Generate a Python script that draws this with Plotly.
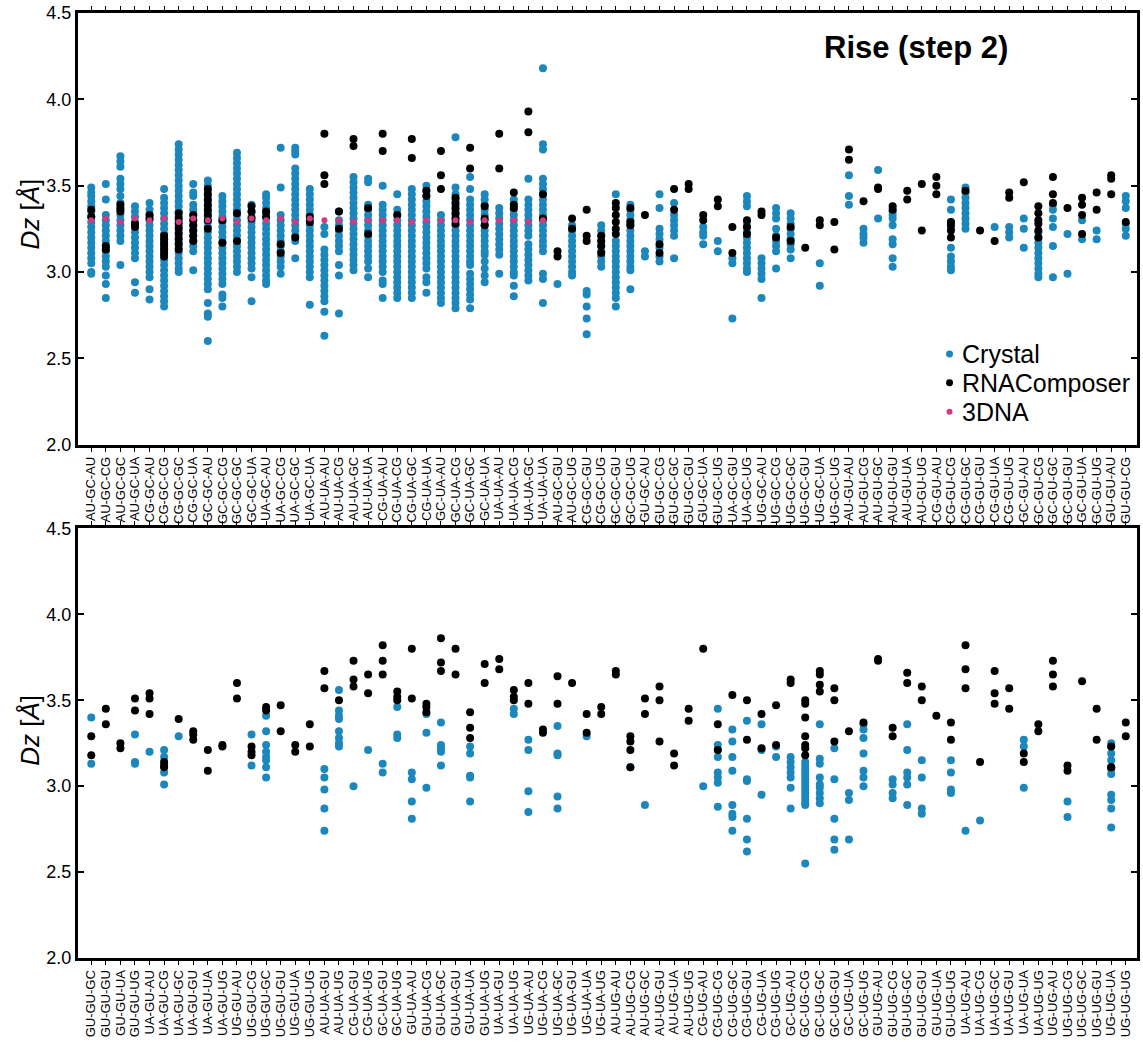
import plotly.graph_objects as go

top_categories = [
    "AU-GC-AU", "AU-GC-CG", "AU-GC-GC", "AU-GC-UA", "CG-GC-AU", "CG-GC-CG", "CG-GC-GC", "CG-GC-UA",
    "GC-GC-AU", "GC-GC-CG", "GC-GC-GC", "GC-GC-UA", "UA-GC-AU", "UA-GC-CG", "UA-GC-GC", "UA-GC-UA",
    "AU-UA-AU", "AU-UA-CG", "AU-UA-GC", "AU-UA-UA", "CG-UA-AU", "CG-UA-CG", "CG-UA-GC", "CG-UA-UA",
    "GC-UA-AU", "GC-UA-CG", "GC-UA-GC", "GC-UA-UA", "UA-UA-AU", "UA-UA-CG", "UA-UA-GC", "UA-UA-UA",
    "AU-GC-GU", "AU-GC-UG", "CG-GC-GU", "CG-GC-UG", "GC-GC-GU", "GC-GC-UG", "GU-GC-AU", "GU-GC-CG",
    "GU-GC-GC", "GU-GC-GU", "GU-GC-UA", "GU-GC-UG", "UA-GC-GU", "UA-GC-UG", "UG-GC-AU", "UG-GC-CG",
    "UG-GC-GC", "UG-GC-GU", "UG-GC-UA", "UG-GC-UG", "AU-GU-AU", "AU-GU-CG", "AU-GU-GC", "AU-GU-GU",
    "AU-GU-UA", "AU-GU-UG", "CG-GU-AU", "CG-GU-CG", "CG-GU-GC", "CG-GU-GU", "CG-GU-UA", "CG-GU-UG",
    "GC-GU-AU", "GC-GU-CG", "GC-GU-GC", "GC-GU-GU", "GC-GU-UA", "GC-GU-UG", "GU-GU-AU", "GU-GU-CG",
]

top_crystal = [
    [3.49, 3.46, 3.44, 3.41, 3.38, 3.35, 3.32, 3.29, 3.26, 3.23, 3.20, 3.17, 3.14, 3.11, 3.08, 3.05, 3.00, 2.99],
    [3.51, 3.42, 3.33, 3.30, 3.27, 3.24, 3.21, 3.18, 3.15, 3.12, 3.09, 3.06, 3.03, 2.98, 2.93, 2.85],
    [3.67, 3.64, 3.61, 3.54, 3.51, 3.48, 3.44, 3.40, 3.36, 3.33, 3.30, 3.27, 3.24, 3.21, 3.18, 3.04],
    [3.38, 3.35, 3.32, 3.29, 3.26, 3.23, 3.20, 3.17, 3.14, 3.11, 3.08, 2.94, 2.88],
    [3.40, 3.36, 3.33, 3.30, 3.27, 3.24, 3.21, 3.18, 3.15, 3.12, 3.09, 3.06, 3.03, 3.00, 2.97, 2.90, 2.84],
    [3.48, 3.43, 3.40, 3.37, 3.34, 3.31, 3.28, 3.25, 3.22, 3.19, 3.16, 3.13, 3.10, 3.07, 3.04, 3.01, 2.98, 2.95, 2.92, 2.89, 2.86, 2.83, 2.80],
    [3.74, 3.71, 3.68, 3.65, 3.62, 3.59, 3.56, 3.53, 3.50, 3.47, 3.44, 3.41, 3.38, 3.35, 3.32, 3.29, 3.26, 3.23, 3.20, 3.17, 3.14, 3.11, 3.08, 3.05, 3.02, 3.00],
    [3.51, 3.46, 3.44, 3.39, 3.36, 3.33, 3.30, 3.27, 3.24, 3.21, 3.18, 3.15, 3.12, 3.01],
    [3.53, 3.50, 3.47, 3.44, 3.41, 3.38, 3.35, 3.32, 3.29, 3.26, 3.23, 3.20, 3.17, 3.14, 3.11, 3.08, 3.05, 3.02, 2.99, 2.96, 2.93, 2.90, 2.82, 2.76, 2.74, 2.60],
    [3.44, 3.41, 3.38, 3.35, 3.32, 3.29, 3.26, 3.23, 3.20, 3.17, 3.14, 3.11, 3.08, 3.05, 3.02, 2.99, 2.96, 2.93, 2.87, 2.85, 2.80],
    [3.69, 3.66, 3.63, 3.60, 3.57, 3.54, 3.51, 3.48, 3.45, 3.42, 3.39, 3.36, 3.33, 3.30, 3.27, 3.24, 3.21, 3.18, 3.15, 3.12, 3.09, 3.06, 3.03, 3.00],
    [3.39, 3.35, 3.32, 3.29, 3.26, 3.23, 3.20, 3.17, 3.14, 3.11, 3.08, 3.05, 3.02, 2.97, 2.83],
    [3.45, 3.43, 3.40, 3.37, 3.34, 3.31, 3.28, 3.25, 3.22, 3.19, 3.16, 3.13, 3.10, 3.07, 3.04, 3.01, 2.98, 2.95, 2.93],
    [3.72, 3.49, 3.33, 3.30, 3.27, 3.24, 3.21, 3.18, 3.15, 3.12, 3.09, 3.06, 3.03, 2.99],
    [3.72, 3.70, 3.68, 3.60, 3.57, 3.54, 3.51, 3.48, 3.45, 3.42, 3.39, 3.36, 3.33, 3.30, 3.27, 3.24, 3.21, 3.18, 3.08],
    [3.48, 3.45, 3.42, 3.39, 3.36, 3.33, 3.30, 3.27, 3.24, 3.21, 3.18, 3.15, 3.12, 3.09, 3.06, 3.03, 3.00, 2.97, 2.81],
    [3.26, 3.22, 3.13, 3.10, 3.07, 3.04, 3.01, 2.98, 2.95, 2.92, 2.89, 2.86, 2.83, 2.77, 2.63],
    [3.35, 3.30, 3.27, 3.24, 3.21, 3.18, 3.15, 3.12, 3.04, 2.98, 2.76],
    [3.55, 3.52, 3.49, 3.46, 3.43, 3.40, 3.37, 3.34, 3.31, 3.28, 3.25, 3.22, 3.19, 3.16, 3.13, 3.10, 3.07, 3.04, 3.01],
    [3.54, 3.52, 3.39, 3.36, 3.33, 3.30, 3.27, 3.24, 3.21, 3.18, 3.15, 3.12, 3.09, 3.06, 3.02, 2.97],
    [3.50, 3.39, 3.36, 3.33, 3.30, 3.27, 3.24, 3.21, 3.18, 3.15, 3.12, 3.09, 3.06, 3.03, 3.00, 2.95, 2.93, 2.85],
    [3.45, 3.36, 3.33, 3.30, 3.27, 3.24, 3.21, 3.18, 3.15, 3.12, 3.09, 3.06, 3.03, 3.00, 2.97, 2.94, 2.91, 2.88, 2.85],
    [3.48, 3.45, 3.42, 3.39, 3.36, 3.33, 3.30, 3.27, 3.24, 3.21, 3.18, 3.15, 3.12, 3.09, 3.06, 3.03, 3.00, 2.97, 2.94, 2.91, 2.88, 2.85],
    [3.50, 3.47, 3.44, 3.41, 3.38, 3.35, 3.32, 3.29, 3.26, 3.23, 3.20, 3.17, 3.14, 3.11, 3.08, 3.05, 3.02, 2.97, 2.94, 2.88],
    [3.33, 3.30, 3.27, 3.24, 3.21, 3.18, 3.15, 3.12, 3.09, 3.06, 3.03, 3.00, 2.97, 2.94, 2.91, 2.88, 2.85, 2.82],
    [3.78, 3.49, 3.45, 3.42, 3.39, 3.36, 3.33, 3.30, 3.27, 3.24, 3.21, 3.18, 3.15, 3.12, 3.09, 3.06, 3.03, 3.00, 2.97, 2.94, 2.91, 2.88, 2.85, 2.82, 2.79],
    [3.55, 3.48, 3.42, 3.39, 3.36, 3.33, 3.30, 3.27, 3.24, 3.21, 3.18, 3.15, 3.12, 3.09, 3.06, 3.04, 2.99, 2.96, 2.93, 2.90, 2.87, 2.84, 2.79],
    [3.45, 3.42, 3.39, 3.36, 3.33, 3.30, 3.27, 3.24, 3.21, 3.18, 3.15, 3.12, 3.10, 3.06, 3.02, 2.98, 2.94],
    [3.37, 3.34, 3.31, 3.28, 3.25, 3.22, 3.19, 3.16, 3.13, 3.10, 2.99],
    [3.42, 3.39, 3.36, 3.33, 3.30, 3.27, 3.24, 3.21, 3.18, 3.15, 3.12, 3.09, 3.06, 3.03, 3.00, 2.98, 2.92, 2.86],
    [3.54, 3.42, 3.39, 3.36, 3.33, 3.30, 3.27, 3.24, 3.21, 3.16, 3.13, 3.10, 3.07, 3.04, 3.01, 2.98, 2.95],
    [4.18, 3.74, 3.71, 3.54, 3.51, 3.48, 3.45, 3.42, 3.39, 3.36, 3.33, 3.30, 3.27, 3.24, 3.21, 3.18, 3.15, 3.12, 2.99, 2.96, 2.82],
    [2.93],
    [3.27, 3.24, 3.21, 3.18, 3.15, 3.12, 3.09, 3.06, 3.03, 3.00, 2.98],
    [2.89, 2.87, 2.80, 2.73, 2.64],
    [3.27, 3.24, 3.21, 3.18, 3.15, 3.12, 3.09, 3.06, 3.03],
    [3.45, 3.18, 3.15, 3.12, 3.09, 3.06, 3.03, 3.00, 2.97, 2.94, 2.91, 2.88, 2.85, 2.80],
    [3.39, 3.36, 3.33, 3.30, 3.27, 3.24, 3.21, 3.18, 3.15, 3.12, 3.09, 3.06, 3.03, 3.01, 2.90],
    [3.12, 3.09],
    [3.45, 3.37, 3.25, 3.22, 3.19, 3.14, 3.09, 3.06],
    [3.40, 3.33, 3.30, 3.27, 3.24, 3.21, 3.08],
    [],
    [3.26, 3.23, 3.21, 3.16],
    [3.18, 3.12],
    [3.08, 3.05, 2.73],
    [3.44, 3.41, 3.38, 3.29, 3.26, 3.23, 3.20, 3.17, 3.14, 3.11, 3.08, 3.05, 3.02, 3.00],
    [3.08, 3.05, 3.02, 2.99, 2.96, 2.85],
    [3.37, 3.34, 3.31, 3.25, 3.21, 3.18, 3.15, 3.12, 3.02],
    [3.34, 3.31, 3.28, 3.25, 3.22, 3.19, 3.16, 3.13, 3.08],
    [],
    [3.05, 2.92],
    [],
    [3.56, 3.44, 3.39],
    [3.25, 3.22, 3.20, 3.17],
    [3.59, 3.31],
    [3.35, 3.33, 3.31, 3.27, 3.19, 3.16, 3.08, 3.03],
    [],
    [],
    [],
    [3.42, 3.36, 3.29, 3.25, 3.14, 3.09, 3.06, 3.03, 3.01],
    [3.49, 3.46, 3.43, 3.40, 3.37, 3.34, 3.31, 3.28, 3.25],
    [],
    [3.26],
    [3.26, 3.23, 3.20],
    [3.31, 3.25, 3.14],
    [3.23, 3.20, 3.17, 3.14, 3.11, 3.08, 3.05, 3.02, 2.99, 2.97],
    [3.39, 3.36, 3.31, 3.26, 3.15, 2.97],
    [3.22, 2.99],
    [3.30, 3.19],
    [3.24, 3.19],
    [],
    [3.44, 3.41, 3.37, 3.28, 3.25, 3.21],
]

top_rnacomposer = [
    [3.36, 3.32], [3.15, 3.13], [3.39, 3.37, 3.35], [3.28, 3.26], [3.33, 3.31],
    [3.21, 3.19, 3.17, 3.15, 3.13, 3.11, 3.09],
    [3.34, 3.31, 3.28, 3.25, 3.22, 3.19, 3.16, 3.13],
    [3.33, 3.30, 3.27, 3.24, 3.21, 3.18],
    [3.48, 3.45, 3.42, 3.39, 3.36, 3.33, 3.30, 3.25],
    [3.30, 3.17], [3.34, 3.18], [3.38, 3.35, 3.31], [3.35, 3.32], [3.16, 3.11], [3.20], [3.32, 3.29],
    [3.80, 3.56, 3.51], [3.35, 3.25], [3.77, 3.73], [3.37, 3.22], [3.80, 3.70], [3.33], [3.77, 3.66], [3.47, 3.44],
    [3.70, 3.56, 3.48], [3.43, 3.40, 3.37, 3.34, 3.31, 3.28], [3.72, 3.60], [3.38, 3.31, 3.27],
    [3.80, 3.60], [3.46, 3.39, 3.37], [3.93, 3.81], [3.45, 3.31],
    [3.12, 3.09], [3.31, 3.25], [3.36, 3.21, 3.18], [3.21, 3.18, 3.15, 3.11],
    [3.40, 3.37, 3.33, 3.29, 3.25, 3.22], [3.37, 3.29, 3.27], [3.33], [3.16, 3.11],
    [3.48, 3.36], [3.51, 3.48], [3.33, 3.30], [3.42, 3.38], [3.26, 3.11], [3.30, 3.26, 3.22],
    [3.35, 3.33], [3.20], [3.26, 3.18], [3.14], [3.30, 3.27], [3.29, 3.13],
    [3.71, 3.65], [3.41], [3.49, 3.48], [3.38, 3.36], [3.47, 3.42], [3.51, 3.24],
    [3.55, 3.50, 3.45], [3.29, 3.27, 3.24, 3.20], [3.47], [3.24], [3.18], [3.46, 3.43],
    [3.52], [3.38, 3.34, 3.30, 3.28, 3.24, 3.20], [3.55, 3.45, 3.40], [3.37],
    [3.43, 3.39, 3.33, 3.22], [3.46, 3.36], [3.56, 3.54, 3.45], [3.29],
]

top_3dna = [3.30, 3.31, 3.29, 3.31, 3.30, 3.31, 3.29, 3.31, 3.30, 3.31, 3.29, 3.31, 3.30, 3.31, 3.29, 3.31,
            3.30, 3.30, 3.29, 3.30, 3.30, 3.30, 3.29, 3.30, 3.30, 3.30, 3.29, 3.30, 3.30, 3.30, 3.29, 3.30]

bottom_categories = [
    "GU-GU-GC", "GU-GU-GU", "GU-GU-UA", "GU-GU-UG", "UA-GU-AU", "UA-GU-CG", "UA-GU-GC", "UA-GU-GU",
    "UA-GU-UA", "UA-GU-UG", "UG-GU-AU", "UG-GU-CG", "UG-GU-GC", "UG-GU-GU", "UG-GU-UA", "UG-GU-UG",
    "AU-UA-GU", "AU-UA-UG", "CG-UA-GU", "CG-UA-UG", "GC-UA-GU", "GC-UA-UG", "GU-UA-AU", "GU-UA-CG",
    "GU-UA-GC", "GU-UA-GU", "GU-UA-UA", "GU-UA-UG", "UA-UA-GU", "UA-UA-UG", "UG-UA-AU", "UG-UA-CG",
    "UG-UA-GC", "UG-UA-GU", "UG-UA-UA", "UG-UA-UG", "AU-UG-AU", "AU-UG-CG", "AU-UG-GC", "AU-UG-GU",
    "AU-UG-UA", "AU-UG-UG", "CG-UG-AU", "CG-UG-CG", "CG-UG-GC", "CG-UG-GU", "CG-UG-UA", "CG-UG-UG",
    "GC-UG-AU", "GC-UG-CG", "GC-UG-GC", "GC-UG-GU", "GC-UG-UA", "GC-UG-UG", "GU-UG-AU", "GU-UG-CG",
    "GU-UG-GC", "GU-UG-GU", "GU-UG-UA", "GU-UG-UG", "UA-UG-AU", "UA-UG-CG", "UA-UG-GC", "UA-UG-GU",
    "UA-UG-UA", "UA-UG-UG", "UG-UG-AU", "UG-UG-CG", "UG-UG-GC", "UG-UG-GU", "UG-UG-UA", "UG-UG-UG",
]

bottom_crystal = [
    [3.40, 3.13], [], [], [3.30, 3.14, 3.13], [3.20], [3.21, 3.17, 3.08, 3.01], [3.29], [],
    [], [], [], [3.30, 3.12], [3.41, 3.32, 3.24, 3.20, 3.17, 3.15, 3.11, 3.05], [], [], [],
    [3.10, 3.05, 2.98, 2.87, 2.74], [3.56, 3.44, 3.41, 3.39, 3.32, 3.28, 3.25, 3.23], [3.00], [3.21],
    [3.13, 3.08], [3.46, 3.30, 3.28], [3.08, 3.04, 2.91, 2.81], [3.42, 3.31, 2.99],
    [3.37, 3.24, 3.22, 3.20, 3.12], [], [3.23, 3.19, 3.06, 3.05, 2.91], [], [], [3.45, 3.42],
    [3.27, 3.21, 2.97, 2.85], [],
    [3.35, 3.19, 3.18, 2.94, 2.87], [], [3.29], [], [], [3.11], [2.89], [],
    [], [], [3.00], [3.45, 3.24, 3.21, 3.17, 3.08, 3.05, 3.02, 2.88],
    [3.33, 3.26, 3.17, 3.09, 2.89, 2.84, 2.82, 2.74], [3.38, 3.04, 3.03, 2.81, 2.69, 2.62], [3.36, 3.21, 2.95], [3.23, 3.17],
    [3.17, 3.14, 3.11, 3.08, 3.05, 2.99, 2.87],
    [3.14, 3.12, 3.10, 3.08, 3.06, 3.04, 3.02, 3.00, 2.98, 2.96, 2.94, 2.92, 2.90, 2.89, 2.55],
    [3.36, 3.16, 3.13, 3.05, 3.01, 2.99, 2.96, 2.93, 2.90],
    [3.22, 3.04, 2.81, 2.69, 2.63], [2.96, 2.92, 2.69], [3.36, 3.33, 3.28, 3.19, 3.09, 3.05, 3.00], [], [3.04, 3.01, 2.96, 2.93],
    [3.36, 3.21, 3.08, 3.05, 3.01, 2.89], [3.15, 3.05, 2.87, 2.84], [], [3.15, 3.08, 2.98, 2.96],
    [2.74], [2.80], [], [], [3.27, 3.23, 2.99], [], [], [2.91, 2.82], [], [],
    [3.25, 3.23, 3.19, 3.15, 3.10, 3.07, 2.95, 2.92, 2.87, 2.76], [],
]

bottom_rnacomposer = [
    [3.29, 3.18], [3.45, 3.36], [3.25, 3.22], [3.51, 3.44], [3.54, 3.51, 3.42], [3.14, 3.12, 3.11], [3.39], [3.32, 3.30, 3.27],
    [3.21, 3.09], [3.24, 3.23], [3.60, 3.51], [3.23, 3.20, 3.18], [3.46, 3.44], [3.47, 3.32], [3.24, 3.20], [3.36, 3.23],
    [3.67, 3.57], [3.50], [3.73, 3.62, 3.58], [3.65, 3.54], [3.82, 3.73, 3.65], [3.55, 3.52, 3.50], [3.80, 3.51], [3.48, 3.46, 3.43],
    [3.86, 3.72, 3.67], [3.80, 3.65], [3.43, 3.34, 3.28], [3.71, 3.60], [3.74, 3.68], [3.56, 3.52, 3.50], [3.60, 3.48], [3.33, 3.31],
    [3.64, 3.48], [3.60], [3.42, 3.31], [3.46, 3.42], [3.67, 3.65], [3.29, 3.26, 3.21, 3.11], [3.51, 3.42], [3.58, 3.50, 3.26],
    [3.19, 3.12], [3.45, 3.38], [3.80], [3.36, 3.21], [3.53], [3.50, 3.27], [3.42, 3.22], [3.47, 3.24],
    [3.62, 3.60], [3.50, 3.48, 3.40, 3.29, 3.24, 3.22, 3.18], [3.67, 3.65, 3.59, 3.55], [3.57, 3.50, 3.26], [3.32], [3.37], [3.74, 3.73], [3.34, 3.29],
    [3.66, 3.60], [3.58, 3.50], [3.41], [3.37, 3.27], [3.82, 3.68, 3.57], [3.14], [3.67, 3.54, 3.48], [3.57, 3.45],
    [3.19, 3.14], [3.36, 3.32], [3.73, 3.65, 3.58], [3.12, 3.09], [3.61], [3.45, 3.27], [3.23, 3.11, 3.11], [3.37, 3.29],
]

legend_labels = ["Crystal", "RNAComposer", "3DNA"]

BLUE = "#1c87bd"
BLACK = "#000000"
PINK = "#cf3a80"
FONT = "Arial, Liberation Sans, sans-serif"

# Figure geometry (pixels)
W, H = 1143, 1045
ML, MR, MT, MB = 78, 3, 10, 87
PW, PH = W - ML - MR, H - MT - MB


def px_x(px):
    return (px - ML) / PW


def px_y(py):
    return 1 - (py - MT) / PH


def flatten(cats, groups):
    xs, ys = [], []
    for c, vals in zip(cats, groups):
        for v in vals:
            xs.append(c)
            ys.append(v)
    return xs, ys


fig = go.Figure()

x, y = flatten(top_categories, top_crystal)
fig.add_trace(go.Scatter(x=x, y=y, mode="markers", name="Crystal", showlegend=False,
                         marker=dict(color=BLUE, size=8), xaxis="x", yaxis="y"))
x, y = flatten(top_categories, top_rnacomposer)
fig.add_trace(go.Scatter(x=x, y=y, mode="markers", name="RNAComposer", showlegend=False,
                         marker=dict(color=BLACK, size=8), xaxis="x", yaxis="y"))
x, y = flatten(top_categories[:len(top_3dna)], [[v] for v in top_3dna])
fig.add_trace(go.Scatter(x=x, y=y, mode="markers", name="3DNA", showlegend=False,
                         marker=dict(color=PINK, size=6), xaxis="x", yaxis="y"))

x, y = flatten(bottom_categories, bottom_crystal)
fig.add_trace(go.Scatter(x=x, y=y, mode="markers", name="Crystal", showlegend=False,
                         marker=dict(color=BLUE, size=8), xaxis="x2", yaxis="y2"))
x, y = flatten(bottom_categories, bottom_rnacomposer)
fig.add_trace(go.Scatter(x=x, y=y, mode="markers", name="RNAComposer", showlegend=False,
                         marker=dict(color=BLACK, size=8), xaxis="x2", yaxis="y2"))

xcommon = dict(type="category", range=[-0.91, 71.77], tickangle=-90, ticks="outside",
               ticklen=4, tickwidth=1, tickcolor="black", showline=True, linewidth=3,
               linecolor="black", mirror="ticks", showgrid=False, zeroline=False,
               tickmode="array", ticklabelstandoff=0,
               tickfont=dict(size=13, color="black", family=FONT))
ycommon = dict(range=[2.0, 4.5], dtick=0.5, tick0=2.0, tickformat=".1f", ticks="inside",
               ticklen=6, tickwidth=1.5, tickcolor="black", showline=True, linewidth=3,
               linecolor="black", mirror="ticks", showgrid=False, zeroline=False,
               tickfont=dict(size=18, color="black", family=FONT))

annotations = [
    dict(text="<b>Rise (step 2)</b>", x=px_x(918), y=px_y(45), xref="paper", yref="paper",
         xanchor="center", yanchor="middle", showarrow=False,
         font=dict(size=31, color="black", family=FONT)),
    dict(text="<i>Dz</i> [<i>Å</i>]", x=px_x(30), y=px_y(212), xref="paper", yref="paper",
         xanchor="center", yanchor="middle", textangle=-90, showarrow=False,
         font=dict(size=26, color="black", family=FONT)),
    dict(text="<i>Dz</i> [<i>Å</i>]", x=px_x(30), y=px_y(730), xref="paper", yref="paper",
         xanchor="center", yanchor="middle", textangle=-90, showarrow=False,
         font=dict(size=26, color="black", family=FONT)),
]

# Legend drawn manually to match the compact reference layout
legend_rows_px = [352, 381, 410]
legend_colors = [BLUE, BLACK, PINK]
shapes = []
for label, color, ry in zip(legend_labels, legend_colors, legend_rows_px):
    r = 3.5 if color != PINK else 3.0
    shapes.append(dict(type="circle", xref="paper", yref="paper",
                       x0=px_x(952 - r), x1=px_x(952 + r), y0=px_y(ry + r), y1=px_y(ry - r),
                       fillcolor=color, line=dict(width=0)))
    annotations.append(dict(text=label, x=px_x(962), y=px_y(ry), xref="paper", yref="paper",
                            xanchor="left", yanchor="middle", showarrow=False,
                            font=dict(size=25, color="black", family=FONT)))

fig.update_layout(
    width=W, height=H,
    margin=dict(l=ML, r=MR, t=MT, b=MB),
    paper_bgcolor="white", plot_bgcolor="rgba(0,0,0,0)",
    font=dict(family=FONT, color="black"),
    xaxis=dict(xcommon, domain=[0, 1], anchor="y", categoryorder="array", categoryarray=top_categories,
               tickvals=top_categories, ticktext=top_categories),
    yaxis=dict(ycommon, domain=[px_y(443), 1], anchor="x"),
    xaxis2=dict(xcommon, domain=[0, 1], anchor="y2", categoryorder="array", categoryarray=bottom_categories,
                tickvals=bottom_categories, ticktext=bottom_categories),
    yaxis2=dict(ycommon, domain=[0, px_y(527)], anchor="x2"),
    annotations=annotations,
    shapes=shapes,
    showlegend=False,
)

fig.write_html("out.html")
